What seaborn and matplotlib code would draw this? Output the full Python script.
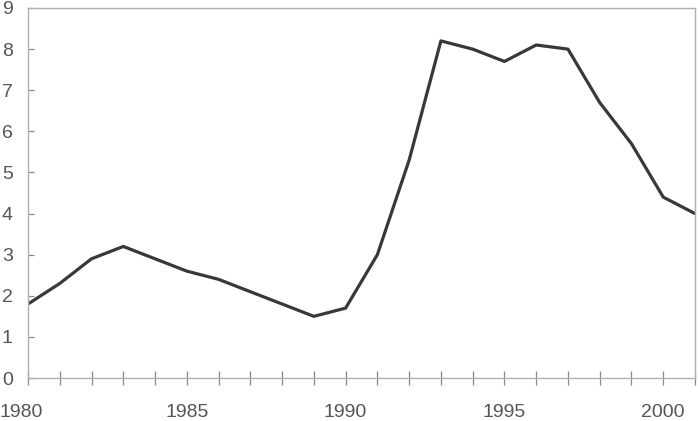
import matplotlib
matplotlib.use("Agg")
import matplotlib.pyplot as plt
import matplotlib.transforms as mtransforms
import seaborn as sns
import pandas as pd

years = list(range(1980, 2002))
values = [1.8, 2.3, 2.9, 3.2, 2.9, 2.6, 2.4, 2.1, 1.8, 1.5, 1.7,
          3.0, 5.3, 8.2, 8.0, 7.7, 8.1, 8.0, 6.7, 5.7, 4.4, 4.0]
xtick_labels = ["1980", "1985", "1990", "1995", "2000"]
ytick_values = list(range(0, 10))

sns.set_theme(style="white")
plt.rcParams['font.family'] = ['Liberation Sans', 'DejaVu Sans']

df = pd.DataFrame({"year": years, "value": values})

fig = plt.figure(figsize=(6.98, 4.21), dpi=100)
ax = fig.add_axes([0.0401, 0.1021, 0.9556, 0.8789])
sns.lineplot(data=df, x="year", y="value", ax=ax, color="#383838", linewidth=2.3)

ax.set_xlim(1980, 2001)
ax.set_ylim(0, 9)
ax.set_xticks(years, minor=False)
ax.set_xticklabels([str(y) if str(y) in xtick_labels else "" for y in years])
ax.set_yticks(ytick_values)
ax.set_yticklabels([str(v) for v in ytick_values])
ax.set_xlabel("")
ax.set_ylabel("")

for s in ax.spines.values():
    s.set_color("#b0b0b0")
    s.set_linewidth(1.0)

ax.tick_params(axis="x", direction="inout", length=9.5, width=0.9, color="#888888",
               labelsize=14, labelcolor="#555555", pad=14, bottom=True)
ax.tick_params(axis="y", direction="in", length=4.5, width=0.9, color="#888888",
               labelsize=14, labelcolor="#555555", pad=11, left=True)

# first label sits slightly left in the reference
first = ax.get_xticklabels()[0]
first.set_transform(first.get_transform() + mtransforms.ScaledTranslation(-7 / 100, 0, fig.dpi_scale_trans))

fig.savefig("out.png", dpi=100)
